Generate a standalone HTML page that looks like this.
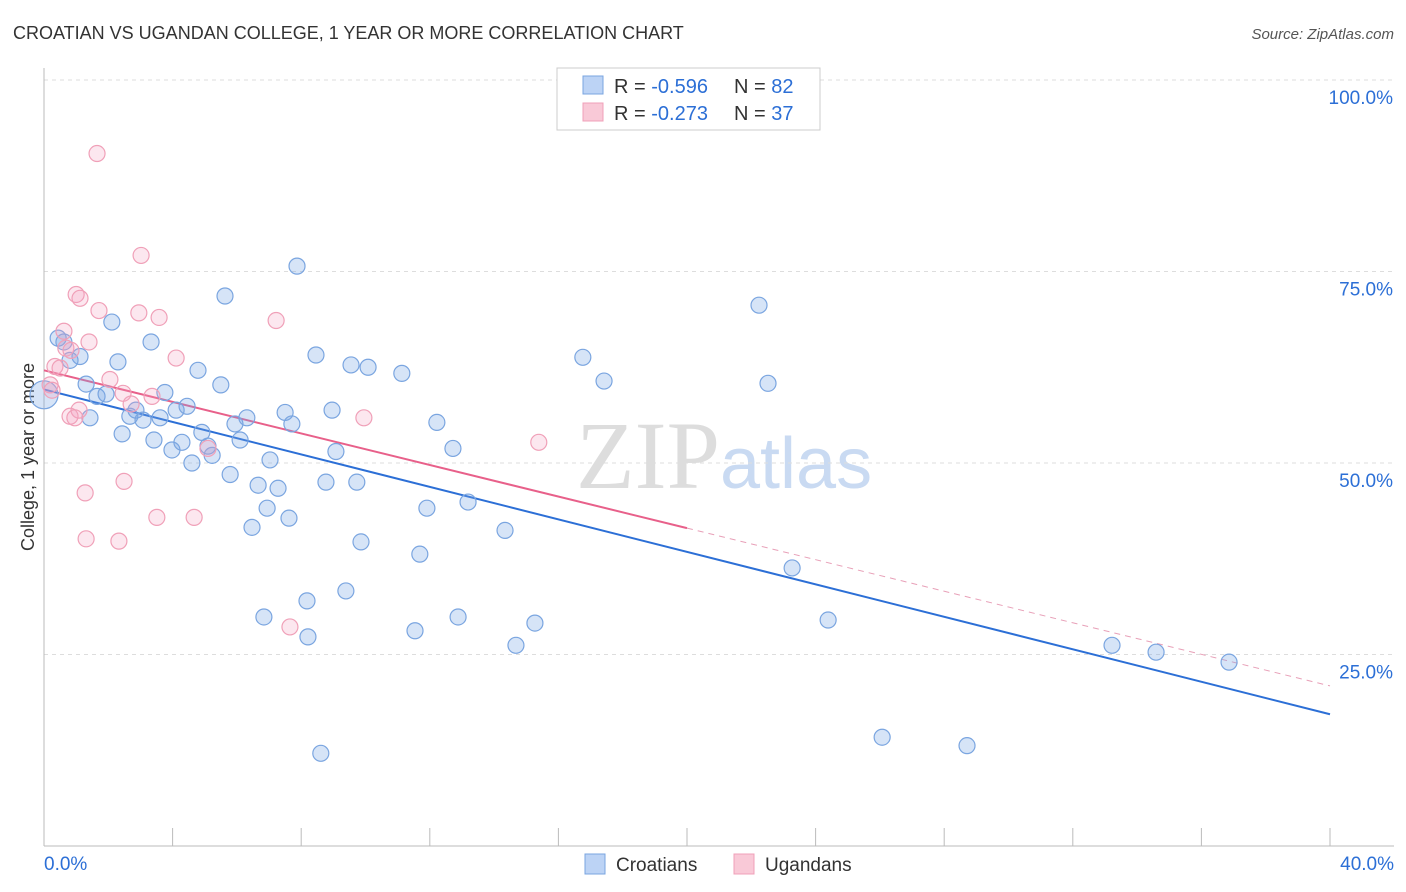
<!DOCTYPE html>
<html><head><meta charset="utf-8">
<style>
body{margin:0;background:#fff;font-family:"Liberation Sans",sans-serif;}
#wrap{position:relative;width:1406px;height:892px;overflow:hidden;}
</style></head>
<body>
<div id="wrap">
<svg id="svg" width="1406" height="892" xmlns="http://www.w3.org/2000/svg">
<text x="13" y="39" font-size="18" fill="#333">CROATIAN VS UGANDAN COLLEGE, 1 YEAR OR MORE CORRELATION CHART</text>
<text x="1394" y="39" font-size="15" fill="#555" font-style="italic" text-anchor="end">Source: ZipAtlas.com</text>
<text x="34" y="457" font-size="18" fill="#333" text-anchor="middle" transform="rotate(-90 34 457)">College, 1 year or more</text>
<text x="720" y="488" font-size="96" fill="#ddd" text-anchor="end" font-family="Liberation Serif,serif">ZIP</text>
<text x="720" y="488" font-size="72" fill="#c9daf2">atlas</text>
<g id="grid"></g><g id="axes"></g><g id="trend"></g><g id="pts"></g>
<g>
<rect x="557" y="68" width="263" height="62" fill="#fff" stroke="#ccc"/>
<rect x="583" y="76" width="20" height="18" fill="#bcd3f5" stroke="#7aa5e0"/>
<rect x="583" y="103" width="20" height="18" fill="#f9c9d7" stroke="#f0a0b8"/>
<text x="614" y="93" font-size="20" fill="#333">R = <tspan fill="#2c6fd6">-0.596</tspan><tspan x="734">N = </tspan><tspan fill="#2c6fd6">82</tspan></text>
<text x="614" y="120" font-size="20" fill="#333">R = <tspan fill="#2c6fd6">-0.273</tspan><tspan x="734">N = </tspan><tspan fill="#2c6fd6">37</tspan></text>
</g>
<g>
<rect x="585" y="854" width="20" height="20" fill="#bcd3f5" stroke="#7aa5e0"/>
<text x="616" y="871" font-size="19" fill="#333">Croatians</text>
<rect x="734" y="854" width="20" height="20" fill="#f9c9d7" stroke="#f0a0b8"/>
<text x="765" y="871" font-size="19" fill="#333">Ugandans</text>
</g>
</svg>
</div>
<script>
const blueX=[0.0,0.44,0.62,1.12,0.81,1.31,1.65,2.11,2.30,1.93,1.43,2.43,2.67,2.86,3.08,3.33,3.42,3.61,3.76,3.98,4.11,4.29,4.45,4.60,4.79,4.91,5.10,5.23,5.50,5.63,5.79,5.94,6.10,6.31,6.47,6.66,6.84,6.94,7.03,7.28,7.50,7.62,7.71,7.87,8.18,8.21,8.46,8.61,8.77,8.96,9.08,9.39,9.55,9.73,9.86,10.08,11.13,11.54,11.69,11.91,12.22,12.72,12.88,13.19,14.34,14.68,15.27,16.76,17.42,22.24,22.52,23.27,24.39,26.07,28.71,33.22,34.59,36.86];
const blueY=[58.9,66.3,65.8,63.9,63.4,60.3,58.7,68.4,63.2,59.0,55.9,53.8,56.1,56.9,55.6,65.8,53.0,55.9,59.2,51.7,56.9,52.7,57.4,50.0,62.1,54.0,52.2,51.0,60.2,71.8,48.5,55.1,53.0,55.9,41.6,47.1,29.9,44.1,50.4,46.7,56.6,42.8,55.1,75.7,32.0,27.3,64.1,12.1,47.5,56.9,51.5,33.3,62.8,47.5,39.7,62.5,61.7,28.1,38.1,44.1,55.3,51.9,29.9,44.9,41.2,26.2,29.1,63.8,60.7,70.6,60.4,36.3,29.5,14.2,13.1,26.2,25.3,24.0];
const pinkX=[1.65,3.02,1.00,1.12,1.71,2.95,3.58,7.22,0.62,1.40,0.68,0.84,4.11,0.34,2.05,2.46,3.36,2.71,1.09,0.81,0.96,9.95,15.39,5.10,1.28,2.49,3.51,4.67,1.31,2.33,7.65,0.19,0.50,0.25];
const pinkY=[90.4,77.1,72.0,71.5,69.9,69.6,69.0,68.6,67.2,65.8,65.0,64.7,63.7,62.6,60.9,59.1,58.7,57.7,56.9,56.1,55.9,55.9,52.7,51.9,46.1,47.6,42.9,42.9,40.1,39.8,28.6,60.2,62.4,59.5];
const blueTrend=[59.6,17.2];
const pinkTrend=[62.1,20.9];
const yTicks=[25,50,75,100];
const xTickLabels=["0.0%","40.0%"];
const NS="http://www.w3.org/2000/svg";
const X=v=>44+v/40*1286, Y=v=>846-v/100*766;
function mk(parent,tag,attrs){const e=document.createElementNS(NS,tag);for(const k in attrs)e.setAttribute(k,attrs[k]);document.getElementById(parent).appendChild(e);return e;}
yTicks.forEach(t=>{
 const l=mk('grid','line',{x1:44,x2:1394,y1:Y(t),y2:Y(t),stroke:'#ddd','stroke-dasharray':'4,4'});
 
 
 const tx=mk('grid','text',{x:1393,y:Y(t)+24,'font-size':19,fill:'#2c6fd6','text-anchor':'end'});
 tx.textContent=t.toFixed(1)+'%';
 
 
});
const ax=mk('axes','line',{x1:44,x2:1394,y1:846,y2:846,stroke:'#bbb'});


const ay=mk('axes','line',{x1:44,x2:44,y1:68,y2:846,stroke:'#bbb'});


for(let i=0;i<=10;i++){const t=mk('axes','line',{x1:X(i*4),x2:X(i*4),y1:828,y2:846,stroke:'#bbb'});
 
 }
const xl0=mk('axes','text',{x:44,y:870,'font-size':19,fill:'#2c6fd6'});xl0.textContent=xTickLabels[0];


const xl1=mk('axes','text',{x:1394,y:870,'font-size':19,fill:'#2c6fd6','text-anchor':'end'});xl1.textContent=xTickLabels[1];


blueX.forEach((x,i)=>{const c=mk('pts','circle',{cx:X(x),cy:Y(blueY[i]),r:i===0?14:8,fill:'rgba(120,165,230,0.3)',stroke:'#7aa5e0','stroke-width':1.2});
 
 });
pinkX.forEach((x,i)=>{const c=mk('pts','circle',{cx:X(x),cy:Y(pinkY[i]),r:8,fill:'rgba(245,160,190,0.25)',stroke:'#f0a0b8','stroke-width':1.2});
 
 });
const bt=mk('trend','line',{x1:X(0),y1:Y(blueTrend[0]),x2:X(40),y2:Y(blueTrend[1]),stroke:'#2c6fd6','stroke-width':2});


const pm=pinkTrend[0]+(pinkTrend[1]-pinkTrend[0])*0.5;
const pt=mk('trend','line',{x1:X(0),y1:Y(pinkTrend[0]),x2:X(20),y2:Y(pm),stroke:'#e8608a','stroke-width':2});


const pd=mk('trend','line',{x1:X(20),y1:Y(pm),x2:X(40),y2:Y(pinkTrend[1]),stroke:'#e8a0b8','stroke-width':1,'stroke-dasharray':'6,5'});


</script>
</body></html>
